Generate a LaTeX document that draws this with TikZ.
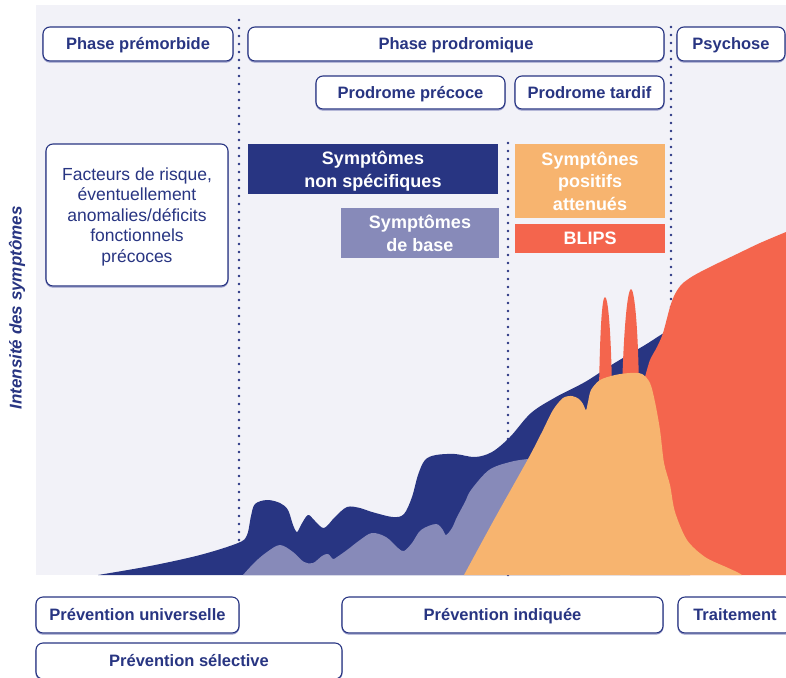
\documentclass[tikz,border=0pt]{standalone}
\usepackage{fontspec}
\setmainfont{Liberation Sans}
\definecolor{navy}{RGB}{40,53,130}
\definecolor{lilac}{RGB}{135,138,185}
\definecolor{apricot}{RGB}{247,180,111}
\definecolor{coral}{RGB}{244,101,77}
\definecolor{panel}{RGB}{242,242,248}
\definecolor{edgeshade}{RGB}{150,153,200}
\begin{document}
\begin{tikzpicture}[x=1pt,y=-1pt,
  pill/.style={draw=navy, fill=white, rounded corners=7pt, line width=1.1pt,
    text=navy, inner sep=0pt, font=\bfseries\fontsize{16.5}{19}\selectfont,
    text height=11.8pt, text depth=0pt,
    preaction={draw=edgeshade, line width=1.1pt, transform canvas={yshift=-1.1pt}}},
  tagbox/.style={inner sep=0pt, text=white, align=center,
    font=\bfseries\fontsize{18}{23}\selectfont},
  dotline/.style={navy, line width=2.7pt, line cap=round, dash pattern=on 0pt off 8pt},
  area/.style={draw=none}
]
\useasboundingbox (0,0) rectangle (786,677);
\begin{scope}
\clip (0,0) rectangle (786,677);

% chart panel
\fill[panel] (36,5) rectangle (786,575);

% phase separators
\draw[dotline] (239,20) -- (239,575);
\draw[dotline] (508,143) -- (508,577);
\draw[dotline] (671,27) -- (671,575);

% non-specific symptoms
\fill[navy] (98,575) -- plot[smooth, tension=0.55] coordinates {
  (98,575) (150,566) (200,555) (238,543) (247,535) (251,516) (255,504)
  (267,500) (280,503) (288,510) (293,525) (297,532) (301,525) (308,515)
  (315,521) (324,528) (335,517) (347,507) (360,508) (372,512) (393,517)
  (404,514) (412,497) (418,475) (425,460) (436,455) (455,454) (475,457)
  (492,452) (510,437) (531,413) (556,397) (585,382) (613,364) (645,345)
  (668,331) (690,325)} -- (690,575) -- cycle;

% basic symptoms
\fill[lilac] (243,575) -- plot[smooth, tension=0.55] coordinates {
  (243,575) (255,562) (267,552) (280,545) (293,552) (304,562) (313,563)
  (322,556) (328,554) (333,559) (337,557) (347,550) (360,540) (372,533)
  (386,537) (398,548) (404,551) (412,543) (421,530) (436,524) (443,530)
  (446,535) (452,528) (457,517) (465,502) (471,490) (489,470) (510,462)
  (528,459) (545,458)} -- (560,575) -- cycle;

% psychosis
\fill[coral] (630,575) -- (640,420) -- plot[smooth, tension=0.5] coordinates {
  (645,377) (650,360) (657,347) (663,333) (670,307) (675,294) (682,284)
  (693,276) (710,267) (737,254) (760,243) (786,232)} -- (786,575) -- cycle;

% brief intermittent psychotic episodes
\fill[coral] (599,390) .. controls (600,330) and (602,297) .. (605,297)
  .. controls (608,297) and (611,330) .. (612,390) -- cycle;
\fill[coral] (622,390) .. controls (624,320) and (628,289) .. (631,289)
  .. controls (634,289) and (638,320) .. (639,390) -- cycle;

% attenuated positive symptoms
\fill[apricot] (464,575) -- plot[smooth, tension=0.5] coordinates {
  (464,575) (495,518) (528,459) (542,432) (553,410) (563,398) (572,396)
  (579,399) (583,404) (586,410) (588,402) (591,390) (600,380) (615,375)
  (630,373) (642,374) (650,383) (655,402) (660,430) (664,463) (670,485)
  (675,512) (687,540) (705,557) (726,567) (737,572) (742,575)} -- cycle;

% phase headers
\node[pill, minimum width=190pt, minimum height=34pt] (premorb) at (138,44) {Phase prémorbide};
\node[pill, minimum width=416pt, minimum height=34pt] (prodrom) at (456,44) {Phase prodromique};
\node[pill, minimum width=108pt, minimum height=34pt] (psychose) at (731,44) {Psychose};
\node[pill, minimum width=189pt, minimum height=33pt] (precoce) at (410.5,92.5) {Prodrome précoce};
\node[pill, minimum width=149pt, minimum height=33pt] (tardif) at (589.5,92.5) {Prodrome tardif};

% risk factors
\node[pill, minimum width=182pt, minimum height=142pt, align=center,
  text height=, text depth=-2.3pt,
  font=\fontsize{17.5}{20.5}\selectfont] (risque) at (137,215)
  {Facteurs de risque,\\éventuellement\\anomalies/déficits\\fonctionnels\\précoces};

% symptom tags
\node[tagbox, fill=navy, minimum width=250pt, minimum height=50pt, text depth=-1.2pt]
  (nonspec) at (373,169) {Symptômes\\non spécifiques};
\node[tagbox, fill=lilac, minimum width=158pt, minimum height=50pt, text depth=-2pt]
  (base) at (420,233) {Symptômes\\de base};
\node[tagbox, fill=apricot, minimum width=150pt, minimum height=74pt,
  font=\bfseries\fontsize{18}{22.5}\selectfont] (positifs) at (590,181)
  {Symptônes\\positifs\\attenués};
\node[tagbox, fill=coral, minimum width=150pt, minimum height=29pt] (blips) at (590,238.5) {BLIPS};

% axis title
\node[rotate=90, text=navy, inner sep=0pt, font=\bfseries\itshape\fontsize{17}{20}\selectfont]
  (axe) at (17,308) {Intensité des symptômes};

% interventions
\node[pill, minimum width=203pt, minimum height=36pt] (univ) at (137.5,615) {Prévention universelle};
\node[pill, minimum width=321pt, minimum height=36pt] (indic) at (502.5,615) {Prévention indiquée};
\node[pill, minimum width=114pt, minimum height=36pt] (trait) at (735,615) {Traitement};
\node[pill, minimum width=306pt, minimum height=36pt] (select) at (189,661) {Prévention sélective};
\end{scope}
\end{tikzpicture}
\end{document}
